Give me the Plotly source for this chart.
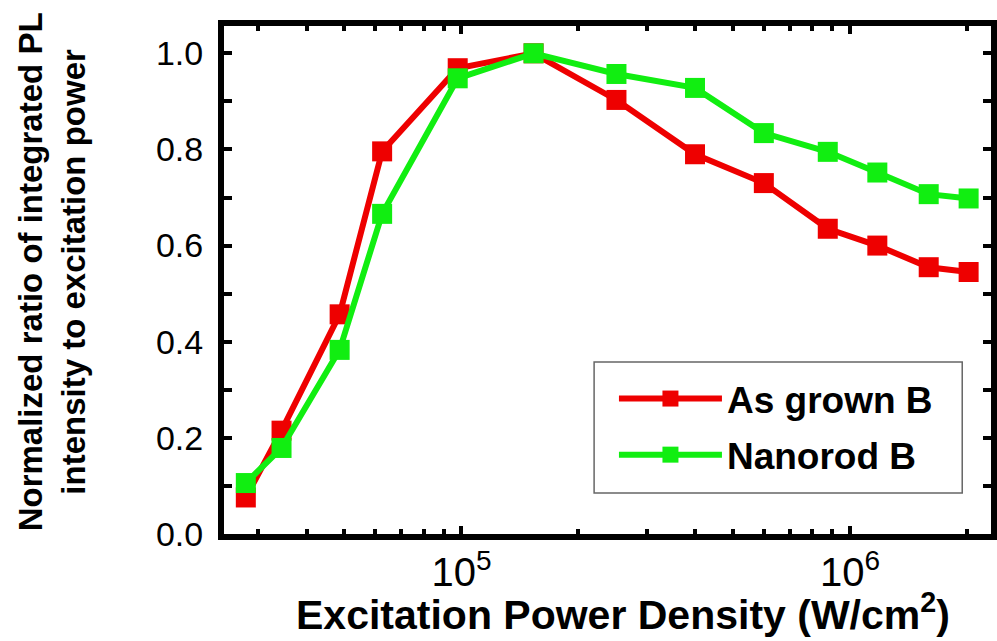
import plotly.graph_objects as go

# Excitation power density (W/cm^2)
power_density = [27870, 34440, 48590, 62500, 97800, 153300, 250500,
                 399000, 599800, 876000, 1175000, 1593000, 2018000]

# Normalized ratio of integrated PL intensity to excitation power
as_grown_b = [0.076, 0.215, 0.457, 0.796, 0.969, 1.0, 0.903,
              0.790, 0.730, 0.635, 0.600, 0.555, 0.545]
nanorod_b = [0.106, 0.179, 0.383, 0.666, 0.948, 1.0, 0.957,
             0.928, 0.834, 0.795, 0.752, 0.707, 0.698]

series_names = ["As grown B", "Nanorod B"]
series_colors = ["#ee0000", "#11ee11"]

FONT = "Liberation Sans, Arial, sans-serif"

# plot area in pixels
L, R, T, B = 224, 997, 26, 534
W, H = R - L, B - T


def px_x(p):
    return (p - L) / W


def px_y(p):
    return (B - p) / H


fig = go.Figure()
for name, values, color in zip(series_names, [as_grown_b, nanorod_b], series_colors):
    fig.add_trace(go.Scatter(
        x=power_density, y=values, name=name, mode="lines+markers",
        line=dict(color=color, width=6),
        marker=dict(symbol="square", size=20, color=color),
        legendgroup=name,
    ))

axis_common = dict(
    showline=True, linewidth=6, linecolor="black", mirror="ticks",
    ticks="inside", ticklen=8, tickwidth=4, tickcolor="black",
    showgrid=False, zeroline=False,
)

fig.update_xaxes(
    type="log", range=[4.389, 6.3625], dtick=1, exponentformat="power",
    tickfont=dict(family=FONT, size=32, color="black"),
    minor=dict(ticks="inside", ticklen=5, tickwidth=4, tickcolor="black", showgrid=False),
    **axis_common,
)
fig.update_yaxes(
    range=[0, 1.0568], dtick=0.2, tickformat=".1f",
    tickfont=dict(family=FONT, size=34, color="black"),
    ticklabelstandoff=8,
    minor=dict(dtick=0.1, ticks="inside", ticklen=8, tickwidth=4, tickcolor="black", showgrid=False),
    **axis_common,
)

fig.add_annotation(
    text="<b>Excitation Power Density (W/cm<sup>2</sup>)</b>",
    xref="paper", yref="paper", x=px_x(626), y=px_y(612),
    xanchor="center", yanchor="middle", showarrow=False,
    font=dict(family=FONT, size=41, color="black"),
)
fig.add_annotation(
    text="<b>Normalized ratio of integrated PL<br>intensity to excitation power</b>",
    xref="paper", yref="paper", x=px_x(51), y=px_y(272),
    xanchor="center", yanchor="middle", showarrow=False, textangle=-90,
    font=dict(family=FONT, size=33, color="black"),
)

# legend frame
fig.add_shape(
    type="rect", xref="paper", yref="paper",
    x0=px_x(597), x1=px_x(968), y0=px_y(493), y1=px_y(362),
    line=dict(color="#666666", width=1.5), fillcolor="white", layer="above",
)

fig.update_layout(
    width=997, height=641,
    margin=dict(l=L, r=0, t=T, b=641 - B),
    paper_bgcolor="white", plot_bgcolor="white",
    showlegend=True,
    legend=dict(
        x=px_x(617), y=px_y(368), xanchor="left", yanchor="top",
        bgcolor="rgba(0,0,0,0)", borderwidth=0,
        font=dict(family=FONT, size=37, color="black", weight="bold"),
        traceorder="grouped", tracegroupgap=5, itemwidth=103,
    ),
)

fig.write_html("out.html")
